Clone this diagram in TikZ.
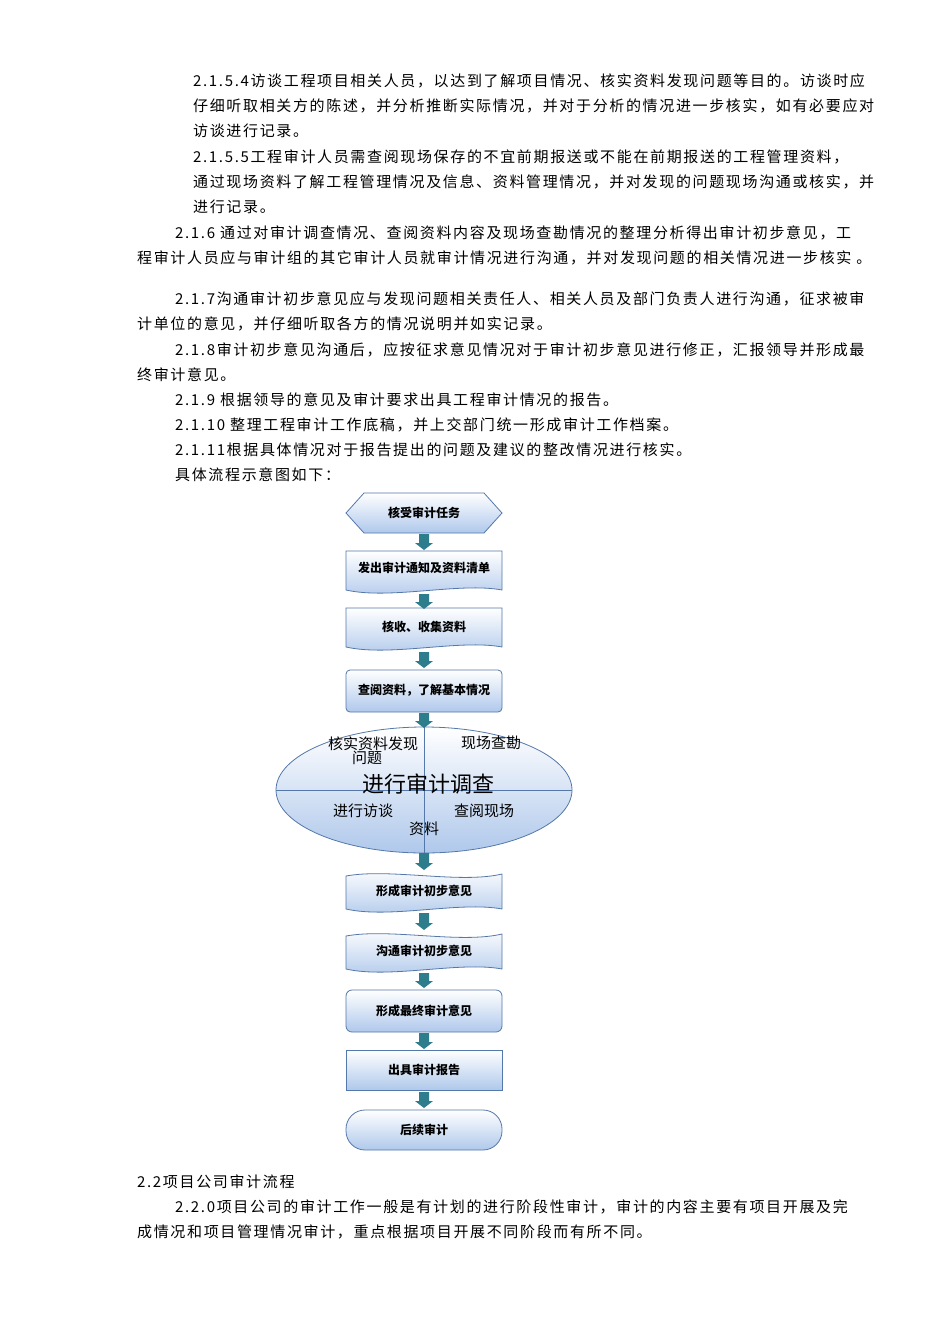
\documentclass[tikz,border=0pt]{standalone}
\usepackage{fontspec}
\setmainfont{Noto Sans CJK SC}[LetterSpace=11]
\newfontfamily\plain{Noto Sans CJK SC}
\usetikzlibrary{shapes.geometric}
\definecolor{bord}{RGB}{85,120,170}
\definecolor{fillb}{RGB}{175,200,235}
\definecolor{teal}{RGB}{45,125,140}
\tikzset{
 body/.style={anchor=west,font=\fontsize{15}{16}\selectfont,inner sep=0pt},
 boxfill/.style={draw=bord,line width=0.8pt,top color=white,bottom color=fillb},
 lbl/.style={font=\plain\fontsize{12}{13}\selectfont\bfseries,inner sep=0pt},
 el/.style={font=\plain\fontsize{15}{16}\selectfont,inner sep=0pt,align=center},
}
\newcommand{\barrow}[2]{\fill[teal] (424-5,#1) -- (424+5,#1) -- (424+5,#2-7) -- (424+9,#2-7) -- (424,#2) -- (424-9,#2-7) -- (424-5,#2-7) -- cycle;}
\begin{document}
\begin{tikzpicture}[x=1pt,y=-1pt]
\useasboundingbox[fill=white] (0,0) rectangle (950,1344);
% body text
\node[body] (t1) at (193,81) {2.1.5.4访谈工程项目相关人员，以达到了解项目情况、核实资料发现问题等目的。访谈时应};
\node[body] (t2) at (193,106) {仔细听取相关方的陈述，并分析推断实际情况，并对于分析的情况进一步核实，如有必要应对};
\node[body] (t3) at (193,131) {访谈进行记录。};
\node[body] (t4) at (193,157) {2.1.5.5工程审计人员需查阅现场保存的不宜前期报送或不能在前期报送的工程管理资料，};
\node[body] (t5) at (193,182) {通过现场资料了解工程管理情况及信息、资料管理情况，并对发现的问题现场沟通或核实，并};
\node[body] (t6) at (193,207) {进行记录。};
\node[body] (t7) at (175,233) {2.1.6 通过对审计调查情况、查阅资料内容及现场查勘情况的整理分析得出审计初步意见，工};
\node[body] (t8) at (137,258) {程审计人员应与审计组的其它审计人员就审计情况进行沟通，并对发现问题的相关情况进一步核实 。};
\node[body] (t9) at (175,299) {2.1.7沟通审计初步意见应与发现问题相关责任人、相关人员及部门负责人进行沟通，征求被审};
\node[body] (t10) at (137,324) {计单位的意见，并仔细听取各方的情况说明并如实记录。};
\node[body] (t11) at (175,350) {2.1.8审计初步意见沟通后，应按征求意见情况对于审计初步意见进行修正，汇报领导并形成最};
\node[body] (t12) at (137,375) {终审计意见。};
\node[body] (t13) at (175,400) {2.1.9 根据领导的意见及审计要求出具工程审计情况的报告。};
\node[body] (t14) at (175,425) {2.1.10 整理工程审计工作底稿，并上交部门统一形成审计工作档案。};
\node[body] (t15) at (175,450) {2.1.11根据具体情况对于报告提出的问题及建议的整改情况进行核实。};
\node[body] (t16) at (175,475) {具体流程示意图如下：};
\node[body] (t17) at (137,1182) {2.2项目公司审计流程};
\node[body] (t18) at (175,1207) {2.2.0项目公司的审计工作一般是有计划的进行阶段性审计，审计的内容主要有项目开展及完};
\node[body] (t19) at (137,1232) {成情况和项目管理情况审计，重点根据项目开展不同阶段而有所不同。};
% shapes
\path[boxfill] (364,493) -- (484,493) -- (502,513) -- (484,533) -- (364,533) -- (346,513) -- cycle;
\node[lbl] (n1) at (424,513) {核受审计任务};
\path[boxfill] (346,551) -- (502,551) -- (502,590) .. controls (460,582) and (390,600) .. (346,590) -- cycle;
\node[lbl] (n2) at (424,568) {发出审计通知及资料清单};
\path[boxfill] (346,608) -- (502,608) -- (502,647) .. controls (460,639) and (390,657) .. (346,647) -- cycle;
\node[lbl] (n3) at (424,627) {核收、收集资料};
\path[boxfill,rounded corners=4pt] (346,670) rectangle (502,712);
\node[lbl] (n4) at (424,690) {查阅资料，了解基本情况};
\path[boxfill] (424,790) ellipse [x radius=148,y radius=63];
\draw[bord,line width=0.8pt] (424,727) -- (424,853) (276,790) -- (572,790);
\node[el,align=center] (e1) at (373,751) {核实资料发现\\[-2pt]\hspace*{-12pt}问题};
\node[el] (e2) at (491,743) {现场查勘};
\node[el] (e3) at (363,811) {进行访谈};
\node[el] (e4) at (484,811) {查阅现场};
\node[el] (e5) at (424,829) {资料};
\node[font=\plain\fontsize{22}{23}\selectfont,inner sep=0pt] (e0) at (428,784) {进行审计调查};
\path[boxfill] (346,876) .. controls (390,868) and (460,884) .. (502,874) -- (502,909) .. controls (460,901) and (390,919) .. (346,909) -- cycle;
\node[lbl] (n6) at (424,891) {形成审计初步意见};
\path[boxfill] (346,936) .. controls (390,928) and (460,944) .. (502,934) -- (502,969) .. controls (460,961) and (390,979) .. (346,969) -- cycle;
\node[lbl] (n7) at (424,951) {沟通审计初步意见};
\path[boxfill,rounded corners=6pt] (346,990) rectangle (502,1032);
\node[lbl] (n8) at (424,1011) {形成最终审计意见};
\path[boxfill] (346,1050) rectangle (502,1090);
\node[lbl] (n9) at (424,1070) {出具审计报告};
\path[boxfill,rounded corners=19pt] (346,1110) rectangle (502,1150);
\node[lbl] (n10) at (424,1130) {后续审计};
% arrows
\barrow{534}{550}
\barrow{594}{609}
\barrow{652}{668}
\barrow{713}{728}
\barrow{853}{870}
\barrow{913}{930}
\barrow{973}{988}
\barrow{1033}{1049}
\barrow{1092}{1108}
\end{tikzpicture}
\end{document}
